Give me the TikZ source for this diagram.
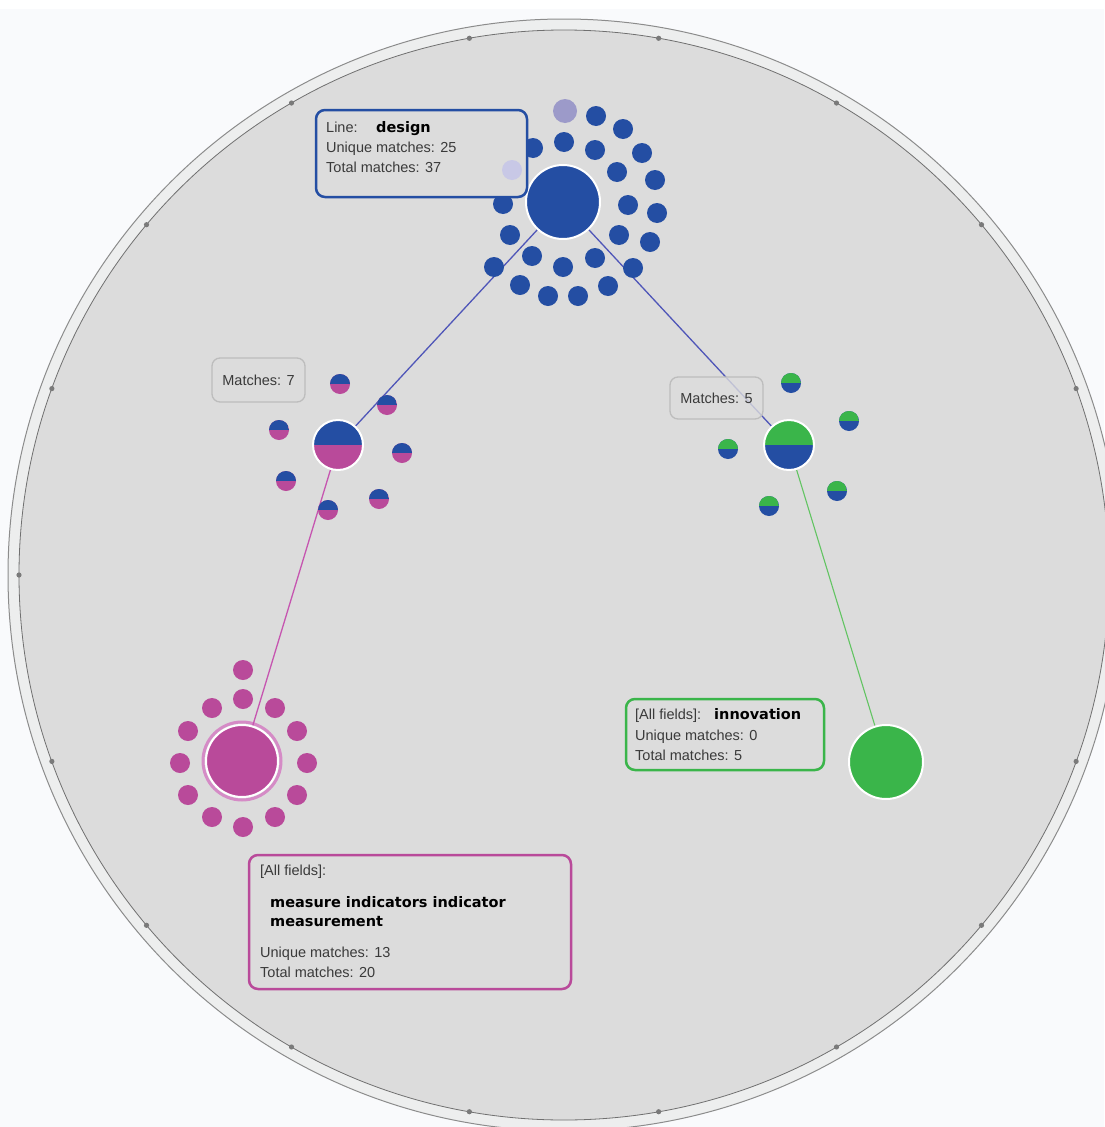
\documentclass[tikz,border=0pt]{standalone}
\usepackage{fontspec}
\setmainfont{Liberation Sans}
\newfontfamily\bfam{DejaVu Sans}
\pgfdeclarelayer{bg}
\pgfsetlayers{bg,main}
\definecolor{pagebg}{HTML}{F9FAFC}
\definecolor{ringc}{HTML}{EDEEEE}
\definecolor{outerc}{HTML}{8C8C8C}
\definecolor{innerc}{HTML}{DCDCDC}
\definecolor{innerlc}{HTML}{707070}
\definecolor{tickc}{HTML}{7A7A7A}
\definecolor{blue1}{HTML}{244EA3}
\definecolor{pink1}{HTML}{B94A9A}
\definecolor{green1}{HTML}{3AB54A}
\definecolor{lineblue}{HTML}{4F56B8}
\definecolor{linepink}{HTML}{C655B0}
\definecolor{linegreen}{HTML}{62C462}
\definecolor{pinkhalo}{HTML}{D58BC6}
\definecolor{lpurple}{HTML}{9C9AC9}
\definecolor{lavender}{HTML}{C8C8E6}
\definecolor{txtc}{HTML}{3A3A3A}
\definecolor{mboxc}{HTML}{BDBDBD}
\begin{document}
\begin{tikzpicture}[x=1pt,y=-1pt,
  txt/.style={font=\fontsize{14.5}{20}\selectfont, text=txtc, inner sep=0pt, anchor=base west},
  btxt/.style={font=\fontsize{14.5}{20}\selectfont\bfam\bfseries, text=black, inner sep=0pt, anchor=base west},
  dot/.style={circle, inner sep=0pt, minimum size=20pt, fill=#1},
  halfdot/.style 2 args={circle, inner sep=0pt, minimum size=20pt, fill=#2,
    path picture={\fill[#1] (path picture bounding box.north west) rectangle (path picture bounding box.east);}},
  bignode/.style={circle, inner sep=0pt, draw=white, line width=2pt},
  labelbox/.style={draw=#1, line width=2.5pt, rounded corners=9pt, fill=innerc, inner sep=0pt},
  mbox/.style={draw=mboxc, line width=1.3pt, rounded corners=8pt, fill=innerc, fill opacity=0.8, text opacity=1,
    text=txtc, font=\fontsize{14.5}{20}\selectfont, inner sep=0pt},
  edge/.style={draw=#1, line width=1.3pt}
]
\useasboundingbox (0,0) rectangle (1104,1127);

% main nodes
\node[bignode, fill=blue1, minimum size=74pt] (design) at (563,202) {};
\node[halfdot={blue1}{pink1}, bignode, minimum size=50pt] (L) at (338,445) {};
\node[halfdot={green1}{blue1}, bignode, minimum size=50pt] (R) at (789,445) {};
\node[bignode, fill=pink1, minimum size=72pt] (P) at (242,761) {};
\node[bignode, fill=green1, minimum size=74pt] (G) at (886,762) {};

\begin{pgfonlayer}{bg}
  \fill[pagebg] (0,0) rectangle (1104,1127);
  \fill[white] (0,0) rectangle (1104,9);
  \coordinate (C) at (564,575);
  \filldraw[fill=ringc, draw=outerc, line width=1pt] (C) circle[radius=556pt];
  \filldraw[fill=innerc, draw=innerlc, line width=0.8pt] (C) circle[radius=545pt];
  \foreach \a in {0,20,...,340} \fill[tickc] (C) ++(\a:545pt) circle[radius=2.6pt];
  \draw[pinkhalo, line width=3pt] (P.center) circle[radius=39pt];
  \draw[edge=lineblue] (design) -- (L);
  \draw[edge=lineblue] (design) -- (R);
  \draw[edge=linepink] (L) -- (P);
  \draw[edge=linegreen, line width=1.1pt] (R) -- (G);
\end{pgfonlayer}

% top cluster
\node[dot=lpurple, minimum size=24pt] (t0) at (565,111) {};
\foreach \p [count=\i] in {(596,116),(623,129),(564,142),(533,148),(595,150),(642,153),
  (617,172),(655,180),(503,204),(628,205),(657,213),(510,235),(619,235),(650,242),
  (532,256),(595,258),(494,267),(563,267),(633,268),(520,285),(608,286),(548,296),(578,296)}
  \node[dot=blue1] (t\i) at \p {};

% left cluster
\foreach \p [count=\i] in {(340,384),(387,405),(279,430),(402,453),(286,481),(379,499),(328,510)}
  \node[halfdot={blue1}{pink1}] (l\i) at \p {};

% right cluster
\foreach \p [count=\i] in {(791,383),(849,421),(728,449),(837,491),(769,506)}
  \node[halfdot={green1}{blue1}] (r\i) at \p {};

% pink cluster
\foreach \p [count=\i] in {(243,670),(243,699),(212,708),(275,708),(188,731),(297,731),(180,763),
  (307,763),(188,795),(297,795),(212,817),(275,817),(243,827)}
  \node[dot=pink1] (p\i) at \p {};

% top label
\node[labelbox=blue1, minimum width=211pt, minimum height=87pt] (lb1) at (421.5,153.5) {};
\node[txt] (lb1a) at (326,132) {Line:};
\node[btxt] (lb1b) at (376,132) {design};
\node[txt] (lb1c) at (326,152) {Unique matches: 25};
\node[txt] (lb1d) at (326,172) {Total matches: 37};
\node[dot=lavender] (t24) at (512,170) {};

% matches boxes
\node[mbox, minimum width=93pt, minimum height=44pt] (m7) at (258.5,380) {Matches: 7};
\node[mbox, minimum width=93pt, minimum height=42pt] (m5) at (716.5,398) {Matches: 5};

% green label
\node[labelbox=green1, minimum width=198pt, minimum height=71pt] (lb2) at (725,734.5) {};
\node[txt] (lb2a) at (635,719) {[All fields]:};
\node[btxt] (lb2b) at (714,719) {innovation};
\node[txt] (lb2c) at (635,740) {Unique matches: 0};
\node[txt] (lb2d) at (635,760) {Total matches: 5};

% pink label
\node[labelbox=pink1, minimum width=322pt, minimum height=134pt] (lb3) at (410,922) {};
\node[txt] (lb3a) at (260,875) {[All fields]:};
\node[btxt] (lb3b) at (270,907) {measure indicators indicator};
\node[btxt] (lb3c) at (270,926) {measurement};
\node[txt] (lb3d) at (260,957) {Unique matches: 13};
\node[txt] (lb3e) at (260,977) {Total matches: 20};
\end{tikzpicture}
\end{document}
